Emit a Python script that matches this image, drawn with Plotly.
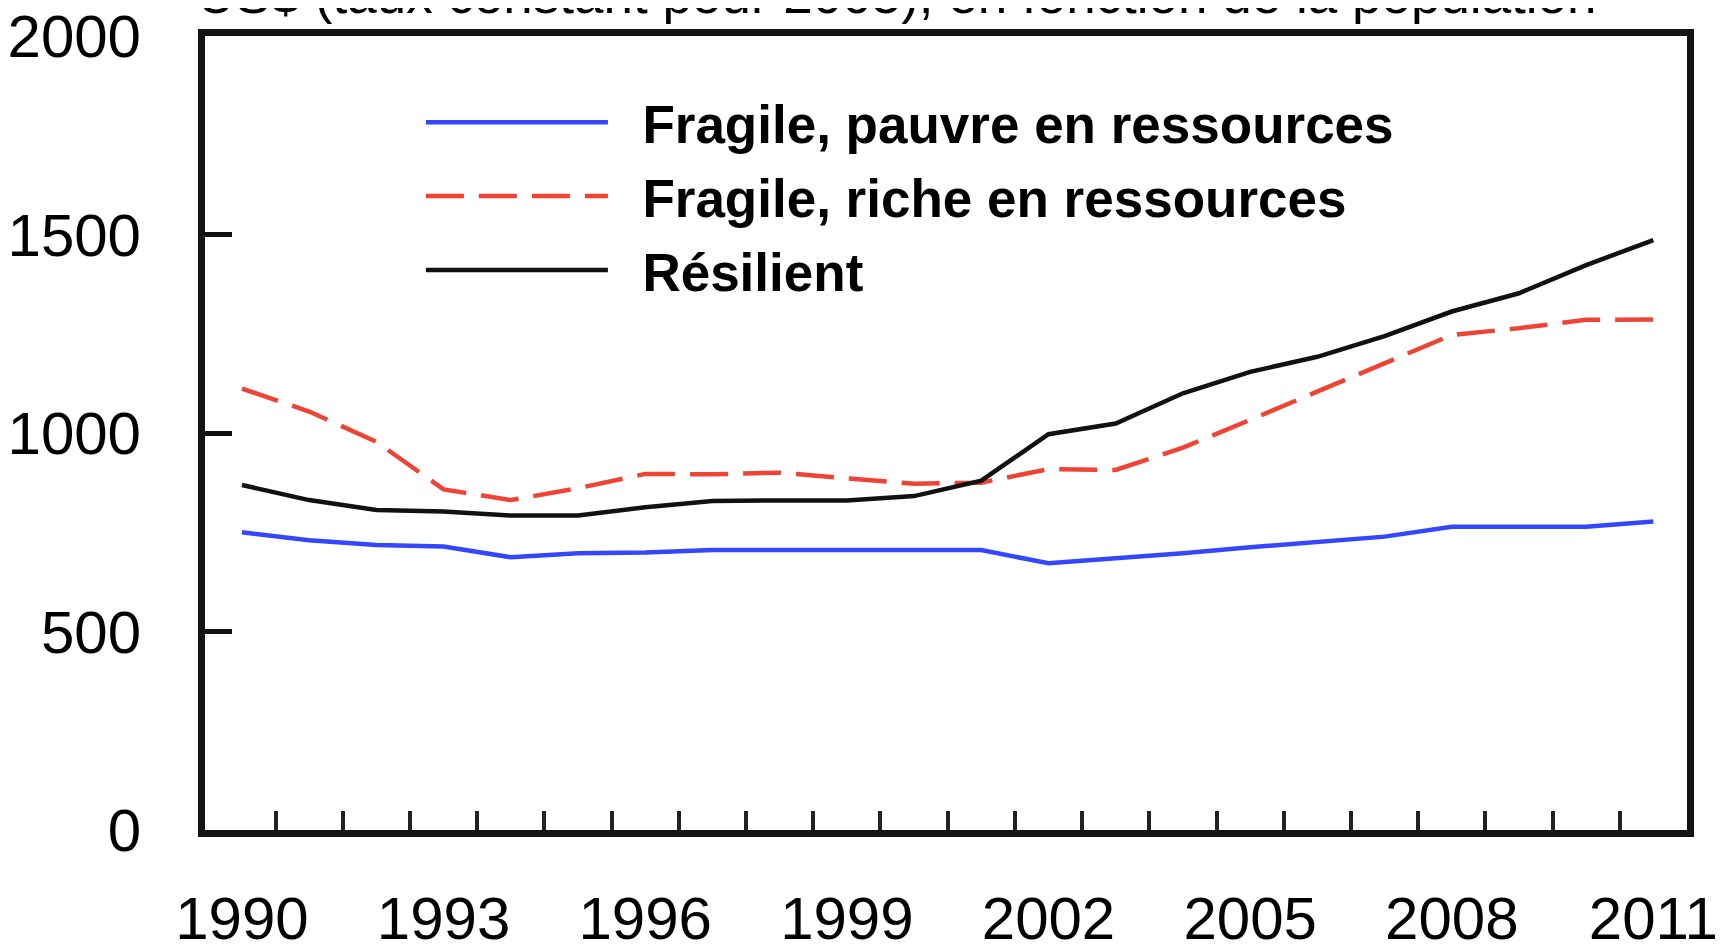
import plotly.graph_objects as go

years = list(range(1990, 2012))
fragile_pauvre = [750, 730, 718, 714, 687, 697, 699, 705, 705, 705, 705, 705,
                  672, 684, 697, 712, 726, 739, 764, 764, 764, 777]
fragile_riche = [1112, 1054, 978, 858, 831, 861, 897, 896, 900, 885, 872, 875,
                 909, 907, 963, 1033, 1104, 1175, 1247, 1264, 1285, 1286]
resilient = [869, 831, 806, 802, 792, 792, 813, 829, 830, 830, 841, 880,
             997, 1024, 1100, 1154, 1192, 1244, 1306, 1352, 1423, 1486]

series_names = ["Fragile, pauvre en ressources", "Fragile, riche en ressources", "Résilient"]
x_tick_years = [1990, 1993, 1996, 1999, 2002, 2005, 2008, 2011]
x_minor_ticks = [y + 0.5 for y in range(1990, 2011)]
y_ticks = [0, 500, 1000, 1500, 2000]
title_text = "US$ (taux constant pour 2005), en fonction de la population"

REG = "Liberation Sans, Arial, sans-serif"
NB = "\u00a0\u00a0"

fig = go.Figure()
fig.add_trace(go.Scatter(x=years, y=fragile_pauvre, mode="lines", name=NB + series_names[0],
                         legendgroup="a", line=dict(color="#3347ff", width=4.5)))
fig.add_trace(go.Scatter(x=years, y=fragile_riche, mode="lines", name=NB + series_names[1],
                         legendgroup="b", line=dict(color="#ef4434", width=4.5, dash="38px,15px")))
fig.add_trace(go.Scatter(x=years, y=resilient, mode="lines", name=NB + series_names[2],
                         legendgroup="c", line=dict(color="#111111", width=4.5)))

fig.update_layout(
    width=1728, height=949,
    margin=dict(l=197, r=49, t=28, b=127),
    paper_bgcolor="white", plot_bgcolor="white",
    showlegend=True,
    legend=dict(x=0.1457, y=0.943, xanchor="left", yanchor="top",
                font=dict(family=REG, size=53, color="black", weight="bold"),
                bgcolor="rgba(0,0,0,0)", itemwidth=182, tracegroupgap=2),
    xaxis=dict(range=[1989.45, 2011.5], tickmode="array", tickvals=x_tick_years,
               ticktext=[str(v) for v in x_tick_years], ticks="",
               showgrid=False, zeroline=False, automargin=False,
               ticklabeloverflow="allow",
               showline=True, linecolor="#141414", linewidth=7, mirror=True,
               tickfont=dict(family=REG, size=60, color="black"),
               ticklabelstandoff=30,
               minor=dict(tickmode="array", tickvals=x_minor_ticks, ticks="inside",
                          ticklen=19, tickwidth=4, tickcolor="#222222", showgrid=False)),
    yaxis=dict(range=[0, 2000], tickmode="array", tickvals=y_ticks,
               ticks="inside", ticklen=27, tickwidth=5, tickcolor="#111111",
               showgrid=False, zeroline=False, automargin=False,
               ticklabeloverflow="allow",
               showline=True, linecolor="#141414", linewidth=7, mirror=True,
               tickfont=dict(family=REG, size=60, color="black"),
               ticklabelstandoff=45),
    annotations=[dict(text=title_text, xref="paper", yref="paper", x=-0.0067, y=1.0126,
                      xanchor="left", yanchor="bottom", showarrow=False,
                      font=dict(family=REG, size=53, color="black"))],
)

fig.write_html("out.html")
